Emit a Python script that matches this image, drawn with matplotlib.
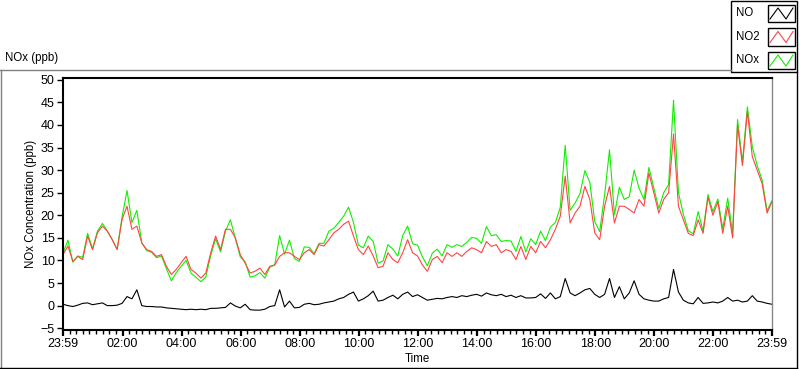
import numpy as np
import matplotlib.pyplot as plt
from matplotlib.lines import Line2D
from matplotlib.patches import Rectangle

# minutes after 23:59, one reading every 10 minutes
minutes = np.arange(0, 1441, 10)

no = [0.3, 0.0, -0.2, 0.1, 0.5, 0.6, 0.2, 0.4, 0.6, 0.0,
      0.0, 0.1, 0.5, 2.0, 1.5, 3.5, 0.0, -0.2, -0.2, -0.3,
      -0.3, -0.5, -0.6, -0.7, -0.8, -0.9, -0.8, -0.9, -0.8, -0.9,
      -0.6, -0.6, -0.5, -0.4, 0.6, -0.1, -0.5, 0.3, -0.9, -1.0,
      -1.0, -0.8, -0.2, 0.0, 3.5, -0.3, 1.0, -0.5, -0.4, 0.3,
      0.5, 0.2, 0.3, 0.6, 0.8, 1.0, 1.5, 1.8, 2.5, 3.0,
      1.0, 1.5, 2.2, 3.2, 1.0, 1.2, 1.8, 2.3, 1.5, 2.5,
      3.0, 2.0, 2.4, 1.8, 1.2, 1.4, 1.6, 1.5, 1.8, 2.0,
      1.8, 2.2, 2.0, 2.3, 2.5, 2.1, 2.8, 2.4, 2.2, 2.5,
      2.0, 2.3, 1.8, 2.2, 1.7, 1.7, 1.8, 2.6, 1.6, 2.8,
      1.5, 2.0, 6.0, 2.8, 2.2, 2.8, 3.5, 3.8, 2.5, 1.8,
      2.5, 6.0, 1.8, 4.2, 1.5, 2.8, 5.5, 2.5, 1.5, 1.2,
      1.0, 1.0, 1.5, 1.8, 8.0, 3.0, 1.2, 0.6, 0.4, 1.8,
      0.5, 0.6, 0.8, 0.6, 1.0, 1.8, 1.0, 1.2, 0.8, 1.0,
      2.2, 1.0, 0.8, 0.5, 0.3]

no2 = [11.3, 13.2, 9.8, 10.9, 10.2, 15.4, 12.4, 16.1, 17.6, 16.5,
       14.6, 12.4, 19.1, 22.0, 16.9, 17.6, 13.9, 12.4, 12.0, 10.9,
       11.3, 8.7, 6.9, 8.0, 9.5, 10.9, 8.0, 7.2, 6.1, 7.2,
       11.7, 15.4, 12.4, 16.9, 16.9, 15.0, 11.3, 9.4, 7.2, 7.6,
       8.3, 6.9, 8.7, 9.0, 10.9, 11.7, 11.7, 10.9, 10.2, 11.7,
       12.4, 11.3, 13.5, 13.2, 14.6, 16.1, 16.9, 18.0, 18.7, 15.4,
       12.4, 11.3, 13.2, 11.0, 8.4, 8.7, 11.7, 10.2, 9.5, 11.7,
       14.6, 11.7, 11.0, 9.0, 7.6, 10.2, 10.9, 9.5, 11.7, 10.9,
       11.7, 10.9, 12.0, 12.8, 12.4, 11.7, 14.2, 13.1, 13.5, 11.7,
       12.4, 12.0, 10.2, 13.1, 10.2, 13.1, 11.7, 14.2, 12.8, 14.6,
       16.9, 19.8, 28.7, 18.3, 20.5, 22.0, 26.4, 23.5, 16.1, 14.6,
       22.0, 26.4, 18.3, 22.0, 22.0, 21.3, 20.5, 23.5, 22.0, 29.4,
       25.0, 20.5, 23.5, 25.0, 38.0, 22.0, 19.0, 16.0, 15.5, 19.0,
       16.0, 24.0, 20.0, 23.0, 16.0, 22.0, 15.0, 40.0, 31.0, 43.0,
       33.0, 30.0, 27.0, 20.5, 23.0]

nox = [11.6, 14.5, 9.6, 11.0, 10.7, 16.0, 12.6, 16.5, 18.2, 16.5,
       14.6, 12.5, 19.6, 25.5, 18.4, 21.1, 13.9, 12.2, 11.8, 10.6,
       11.0, 8.2, 5.5, 7.3, 8.7, 10.0, 7.2, 6.3, 5.3, 6.3,
       11.1, 14.8, 11.9, 16.5, 19.0, 14.9, 10.8, 9.7, 6.3, 6.6,
       7.3, 6.1, 8.5, 9.0, 15.5, 11.4, 14.5, 10.4, 9.8, 13.0,
       12.9, 11.5, 13.8, 13.8, 16.5, 17.1, 18.4, 19.8, 21.8, 18.4,
       13.4, 12.8, 15.4, 14.2, 9.4, 9.9, 13.5, 12.5, 11.0, 15.5,
       17.6, 13.7, 13.4, 10.8, 8.8, 11.6, 12.5, 11.0, 13.5, 12.9,
       13.5, 13.1, 14.0, 15.1, 14.9, 13.8, 17.5, 15.5, 15.7, 14.2,
       14.4, 14.3, 12.0, 15.3, 11.9, 14.8, 13.5, 16.5, 14.4, 17.4,
       18.4, 21.8, 35.5, 21.1, 22.7, 24.8, 29.9, 27.3, 18.6, 16.4,
       24.5, 34.5, 20.1, 26.2, 23.5, 24.1, 30.0, 26.0, 23.5, 30.6,
       26.0, 21.5, 25.0, 26.8, 45.5, 25.0, 20.2, 16.6, 15.9, 20.8,
       16.5, 24.6, 20.8, 23.6, 17.0, 23.8, 16.0, 41.2, 31.8, 44.0,
       35.2, 31.0, 27.8, 21.0, 23.3]

tick_pos = [0, 121, 241, 361, 481, 601, 721, 841, 961, 1081, 1201, 1321, 1440]
tick_labels = ["23:59", "02:00", "04:00", "06:00", "08:00", "10:00", "12:00",
               "14:00", "16:00", "18:00", "20:00", "22:00", "23:59"]

W, H = 800, 369


def fx(x):
    return x / W


def fy(y):
    return 1 - y / H


plt.rcParams['font.family'] = ['Liberation Sans', 'DejaVu Sans']

fig = plt.figure(figsize=(W / 100, H / 100), dpi=100)
ax = fig.add_axes([fx(63), fy(330), (772 - 63) / W, (330 - 78) / H])

ax.plot(minutes, nox, color='#12ee00', lw=0.8)
ax.plot(minutes, no2, color='#ff4444', lw=0.8)
ax.plot(minutes, no, color='black', lw=0.8)

ax.set_xlim(0, 1440)
ax.set_ylim(-5.4, 50.4)
ax.set_yticks(range(-5, 51, 5))
ax.set_xticks(tick_pos)
ax.set_xticklabels(tick_labels)
minor = []
for a, b in zip(tick_pos[:-1], tick_pos[1:]):
    minor.extend(np.linspace(a, b, 10)[1:-1])
ax.set_xticks(minor, minor=True)

tick_font = ['Liberation Sans Narrow', 'Liberation Sans', 'DejaVu Sans']
for lab in ax.get_xticklabels() + ax.get_yticklabels():
    lab.set_family(tick_font)
    lab.set_fontsize(9)

ax.tick_params(axis='x', which='major', length=4, width=1.6, pad=2)
ax.tick_params(axis='x', which='minor', length=3, width=1)
ax.tick_params(axis='y', length=4, width=1, pad=2)

for s in ['left', 'top', 'bottom']:
    ax.spines[s].set_linewidth(1.5)
ax.spines['right'].set_color('#888888')
ax.spines['right'].set_linewidth(1)

ax.set_ylabel('NOx Concentration (ppb)', fontsize=8.3)
ax.yaxis.set_label_coords(-0.037, 0.5)
ax.set_xlabel('Time', fontsize=8.3, labelpad=2)

fig.text(fx(5), fy(58), 'NOx (ppb)', fontsize=8.3, va='center', ha='left')

# outer panel frame
fig.add_artist(Line2D([fx(0), fx(731)], [fy(69.5), fy(69.5)], color='#808080', lw=1,
                      transform=fig.transFigure))
fig.add_artist(Line2D([fx(0.5), fx(0.5)], [fy(69.5), fy(368)], color='#808080', lw=1,
                      transform=fig.transFigure))
fig.add_artist(Line2D([fx(0), fx(797)], [fy(367.5), fy(367.5)], color='black', lw=1,
                      transform=fig.transFigure))
fig.add_artist(Line2D([fx(797), fx(797)], [fy(72), fy(368)], color='black', lw=1,
                      transform=fig.transFigure))

# legend panel
fig.add_artist(Rectangle((fx(731), fy(72)), (797 - 731) / W, 71.5 / H, fill=False,
                         edgecolor='black', lw=1, transform=fig.transFigure))
leg_names = ['NO', 'NO2', 'NOx']
leg_colors = ['black', '#ff4444', '#12ee00']
for i, (name, col) in enumerate(zip(leg_names, leg_colors)):
    top = 4 + i * 23.5
    fig.text(fx(736), fy(top + 9), name, fontsize=8.3, va='center', ha='left')
    fig.add_artist(Rectangle((fx(768), fy(top + 18)), 27 / W, 17 / H, fill=True,
                             facecolor='white', edgecolor='black', lw=1,
                             transform=fig.transFigure))
    zx = [fx(770), fx(778), fx(786), fx(793)]
    zy = [fy(top + 15), fy(top + 4), fy(top + 15), fy(top + 4)]
    fig.add_artist(Line2D(zx, zy, color=col, lw=0.8, transform=fig.transFigure))

fig.savefig('out.png', dpi=100)
